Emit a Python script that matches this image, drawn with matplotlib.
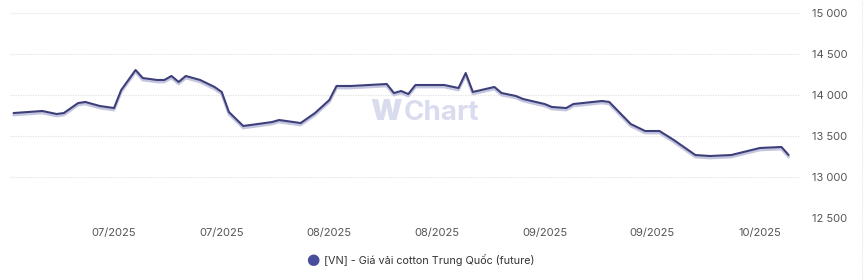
import matplotlib
matplotlib.use('Agg')
import matplotlib.pyplot as plt
import matplotlib.dates as mdates
import matplotlib.transforms as mtransforms
import numpy as np
import pandas as pd
from matplotlib.ticker import FuncFormatter


DATES = [
    '2025-06-19', '2025-06-23', '2025-06-25', '2025-06-26', '2025-06-28',
    '2025-06-29', '2025-07-01', '2025-07-03', '2025-07-04', '2025-07-06',
    '2025-07-07', '2025-07-09', '2025-07-10', '2025-07-11', '2025-07-12',
    '2025-07-13', '2025-07-15', '2025-07-17', '2025-07-18', '2025-07-19',
    '2025-07-21', '2025-07-23', '2025-07-25', '2025-07-26', '2025-07-29',
    '2025-07-31', '2025-08-02', '2025-08-03', '2025-08-05', '2025-08-10',
    '2025-08-11', '2025-08-12', '2025-08-13', '2025-08-14', '2025-08-17',
    '2025-08-18', '2025-08-20', '2025-08-21', '2025-08-22', '2025-08-25',
    '2025-08-26', '2025-08-28', '2025-08-29', '2025-09-01', '2025-09-02',
    '2025-09-04', '2025-09-05', '2025-09-09', '2025-09-10', '2025-09-13',
    '2025-09-15', '2025-09-17', '2025-09-19', '2025-09-22', '2025-09-24',
    '2025-09-27', '2025-10-01', '2025-10-04', '2025-10-05',
]
PRICES = [
    13780, 13805, 13768, 13780, 13902,
    13915, 13866, 13841, 14061, 14305,
    14207, 14183, 14183, 14232, 14159,
    14232, 14183, 14098, 14037, 13793,
    13622, 13646, 13670, 13695, 13658,
    13780, 13939, 14110, 14110, 14134,
    14024, 14049, 14012, 14122, 14122,
    14122, 14085, 14268, 14037, 14098,
    14024, 13988, 13951, 13890, 13854,
    13841, 13890, 13927, 13915, 13646,
    13561, 13561, 13451, 13268, 13256,
    13268, 13354, 13366, 13268,
]
TICK_DATES = ['2025-07-03', '2025-07-18', '2025-08-02', '2025-08-17',
              '2025-09-01', '2025-09-16', '2025-10-01']
Y_TICKS = [12500, 13000, 13500, 14000, 14500, 15000]
SERIES_NAME = '[VN] - Giá vải cotton Trung Quốc (future)'

LINE = '#3d3f7a'
SHADOW = '#c4c5de'
TEXT = '#555555'
MARK = '#d9dbef'


def main():
    plt.rcParams['font.family'] = ['Inter', 'DejaVu Sans']
    fig = plt.figure(figsize=(8.64, 2.8), dpi=100)
    ax = fig.add_axes([10 / 864, 62 / 280, 790 / 864, 205 / 280])

    # watermark, behind everything
    fig.text(402 / 864, 1 - 112 / 280, 'W', color=MARK, fontsize=21,
             fontweight='black', ha='right', va='center', zorder=0)
    fig.text(404 / 864, 1 - 113 / 280, 'Chart', color=MARK, fontsize=20,
             fontweight='bold', ha='left', va='center', zorder=0)
    ax.patch.set_alpha(0)

    x = pd.to_datetime(DATES)
    shadow = mtransforms.offset_copy(ax.transData, fig=fig, x=0, y=-2, units='dots')
    ax.plot(x, PRICES, color=SHADOW, lw=2.0, transform=shadow,
            solid_joinstyle='round', solid_capstyle='round')
    ax.plot(x, PRICES, color=LINE, lw=1.5,
            solid_joinstyle='round', solid_capstyle='round')

    ax.set_ylim(12500, 15000)
    ax.set_xlim(pd.Timestamp('2025-06-18 12:00'), pd.Timestamp('2025-10-06 14:00'))
    ax.set_yticks(Y_TICKS)
    ax.yaxis.set_major_formatter(FuncFormatter(lambda v, p: f'{int(v):,}'.replace(',', ' ')))
    ax.set_xticks(pd.to_datetime(TICK_DATES))
    ax.xaxis.set_major_formatter(mdates.DateFormatter('%m/%Y'))

    ax.yaxis.tick_right()
    ax.tick_params(axis='both', length=0, colors=TEXT, labelsize=8)
    ax.tick_params(axis='y', pad=9, labelsize=8)
    ax.tick_params(axis='x', pad=7)
    ax.grid(axis='y', color='#e3e3e3', ls=(0, (1, 1)), lw=0.9)
    for s in ax.spines.values():
        s.set_visible(False)

    # right border
    fig.add_artist(plt.Line2D([862 / 864, 862 / 864], [0, 1], color='#e6e6e6',
                              ls=(0, (1, 1)), lw=0.8))

    # legend
    fig.text(313 / 864, 1 - 260 / 280, '\u25CF', color='#4a4d9c', fontsize=11,
             ha='center', va='center', family=['DejaVu Sans'])
    fig.text(324 / 864, 1 - 260 / 280, SERIES_NAME, color='#333333', fontsize=7.8,
             ha='left', va='center')

    fig.savefig('out.png', dpi=100, facecolor='white')


if __name__ == '__main__':
    main()
